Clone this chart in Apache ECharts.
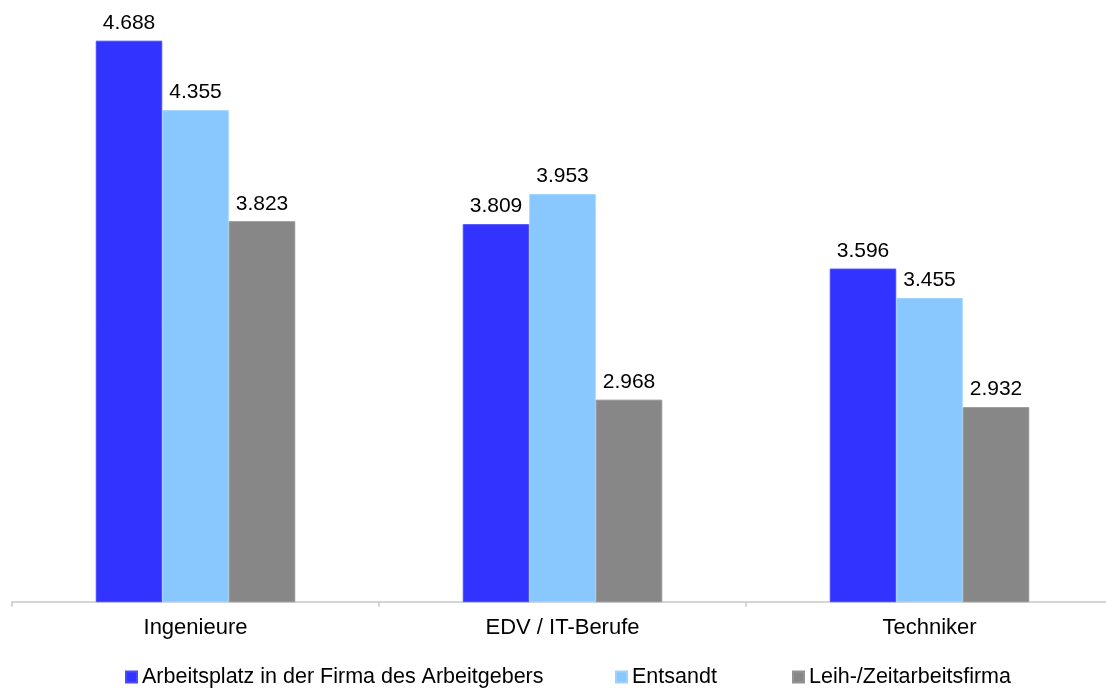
<!DOCTYPE html>
<html>
<head>
<meta charset="utf-8">
<script src="https://cdn.jsdelivr.net/npm/echarts@6/dist/echarts.min.js"></script>
<style>
html,body{margin:0;padding:0;background:#fff;}
#chart{width:1106px;height:688px;}
</style>
</head>
<body>
<div id="chart"></div>
<script>
const categories = ["Ingenieure", "EDV / IT-Berufe", "Techniker"];
const seriesNames = ["Arbeitsplatz in der Firma des Arbeitgebers", "Entsandt", "Leih-/Zeitarbeitsfirma"];
const arbeitsplatz = [4.688, 3.809, 3.596];
const entsandt = [4.355, 3.953, 3.455];
const leih = [3.823, 2.968, 2.932];

const colors = ["#3333FF", "#88C8FF", "#878787"];
const borders = ["#4a4aff", "#9fd3ff", "#939393"];
const font = "'Liberation Sans', Arial, sans-serif";
const values = [arbeitsplatz, entsandt, leih];

const chart = echarts.init(document.getElementById('chart'), null, {renderer: 'canvas'});

const legendLefts = [125, 615, 792];
const option = {
  animation: false,
  backgroundColor: '#ffffff',
  grid: {left: 12, width: 1101, top: 17.3, bottom: 86.3, containLabel: false, outerBoundsMode: 'none'},
  legend: seriesNames.map((n, i) => ({
    data: [n],
    left: legendLefts[i],
    top: 666,
    icon: 'rect',
    itemWidth: 11,
    itemHeight: 11,
    padding: 0,
    textStyle: {fontFamily: font, fontSize: 21.5, color: '#000'}
  })),
  xAxis: {
    type: 'category',
    data: categories,
    axisLine: {lineStyle: {color: '#c8c8c8', width: 1.5}},
    axisTick: {show: true, length: 5, lineStyle: {color: '#c8c8c8', width: 1.5}},
    axisLabel: {fontFamily: font, fontSize: 22, color: '#000', margin: 15}
  },
  yAxis: {
    type: 'value',
    min: 2,
    max: 4.8,
    show: false,
    splitLine: {show: false}
  },
  series: seriesNames.map((n, i) => ({
    name: n,
    type: 'bar',
    data: values[i],
    barWidth: 66.5,
    barGap: '0%',
    itemStyle: {color: colors[i], borderColor: borders[i], borderWidth: 1},
    label: {
      show: true,
      position: 'top',
      distance: 7,
      fontFamily: font,
      fontSize: 21,
      color: '#000',
      formatter: p => p.value.toFixed(3)
    }
  }))
};
chart.setOption(option);
</script>
</body>
</html>
